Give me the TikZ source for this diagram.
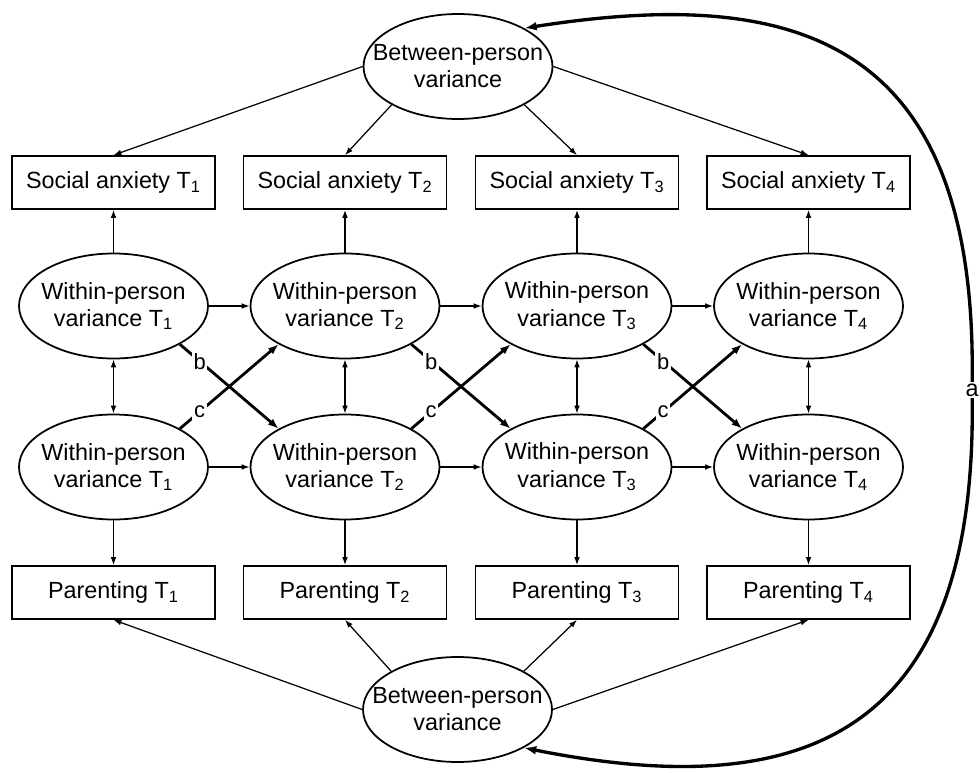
\documentclass[tikz,border=0pt]{standalone}
\usepackage{fontspec}
\setmainfont{Liberation Sans}
\usetikzlibrary{shapes.geometric, arrows.meta, positioning, calc}

\begin{document}
\begin{tikzpicture}[
	font=\fontsize{13.3}{15.4}\selectfont,
	latent/.style={draw, ellipse, line width=1pt, minimum width=3.78cm, minimum height=2.1cm, inner ysep=0pt, inner xsep=-0.15cm, align=center},
	between/.style={latent, inner xsep=-0.37cm},
	observed/.style={draw, rectangle, line width=1pt, minimum width=4.06cm, minimum height=1.06cm, inner sep=0pt},
	regpath/.style={-{Latex[length=4.5pt,width=3.2pt]}, line width=0.7pt},
	covpath/.style={{Latex[length=4.5pt,width=3.2pt]}-{Latex[length=4.5pt,width=3.2pt]}, line width=0.7pt},
	lagpath/.style={-{Latex[length=6pt,width=4.5pt]}, line width=1.6pt},
	coef/.style={pos=0.2, fill=white, inner sep=1pt, font=\fontsize{12.5}{14}\selectfont}
	]
	% --- Frame ---
	\useasboundingbox (0,0) rectangle (19.6,15.46);
	
	% --- Between-person (top) ---
	\node[between] (BP_top) at (9.16,14.13) {Between-person\\variance};
	
	% --- Social anxiety row ---
	\node[observed] (SA_1) at (2.27,11.81) {Social anxiety T\textsubscript{1}};
	\node[observed] (SA_2) at (6.90,11.81) {Social anxiety T\textsubscript{2}};
	\node[observed] (SA_3) at (11.54,11.81) {Social anxiety T\textsubscript{3}};
	\node[observed] (SA_4) at (16.17,11.81) {Social anxiety T\textsubscript{4}};
	
	% --- Within-person, anxiety ---
	\node[latent] (WA_1) at (2.27,9.34) {Within-person\\variance T\textsubscript{1}};
	\node[latent] (WA_2) at (6.90,9.34) {Within-person\\variance T\textsubscript{2}};
	\node[latent] (WA_3) at (11.54,9.34) {Within-person\\variance T\textsubscript{3}};
	\node[latent] (WA_4) at (16.17,9.34) {Within-person\\variance T\textsubscript{4}};
	
	% --- Within-person, parenting ---
	\node[latent] (WP_1) at (2.27,6.12) {Within-person\\variance T\textsubscript{1}};
	\node[latent] (WP_2) at (6.90,6.12) {Within-person\\variance T\textsubscript{2}};
	\node[latent] (WP_3) at (11.54,6.12) {Within-person\\variance T\textsubscript{3}};
	\node[latent] (WP_4) at (16.17,6.12) {Within-person\\variance T\textsubscript{4}};
	
	% --- Parenting row ---
	\node[observed] (PA_1) at (2.27,3.61) {Parenting T\textsubscript{1}};
	\node[observed] (PA_2) at (6.90,3.61) {Parenting T\textsubscript{2}};
	\node[observed] (PA_3) at (11.54,3.61) {Parenting T\textsubscript{3}};
	\node[observed] (PA_4) at (16.17,3.61) {Parenting T\textsubscript{4}};
	
	% --- Between-person (bottom) ---
	\node[between] (BP_bot) at (9.15,1.27) {Between-person\\variance};
	
	% --- Loadings ---
	\draw[regpath] (BP_top.west) -- (SA_1.north);
	\draw[regpath] (BP_top.210) -- (SA_2.north);
	\draw[regpath] (BP_top.-30) -- (SA_3.north);
	\draw[regpath] (BP_top.east) -- (SA_4.north);
	
	\draw[regpath] (WA_1) -- (SA_1);
	\draw[regpath] (WA_2) -- (SA_2);
	\draw[regpath] (WA_3) -- (SA_3);
	\draw[regpath] (WA_4) -- (SA_4);
	
	\draw[regpath] (WP_1) -- (PA_1);
	\draw[regpath] (WP_2) -- (PA_2);
	\draw[regpath] (WP_3) -- (PA_3);
	\draw[regpath] (WP_4) -- (PA_4);
	
	\draw[regpath] (BP_bot.west) -- (PA_1.south);
	\draw[regpath] (BP_bot.150) -- (PA_2.south);
	\draw[regpath] (BP_bot.30) -- (PA_3.south);
	\draw[regpath] (BP_bot.east) -- (PA_4.south);
	
	% --- Stability paths ---
	\draw[regpath] (WA_1) -- (WA_2);
	\draw[regpath] (WA_2) -- (WA_3);
	\draw[regpath] (WA_3) -- (WA_4);
	\draw[regpath] (WP_1) -- (WP_2);
	\draw[regpath] (WP_2) -- (WP_3);
	\draw[regpath] (WP_3) -- (WP_4);
	
	% --- Within-time covariances ---
	\draw[covpath] (WA_1) -- (WP_1);
	\draw[covpath] (WA_2) -- (WP_2);
	\draw[covpath] (WA_3) -- (WP_3);
	\draw[covpath] (WA_4) -- (WP_4);
	
	% --- Cross-lagged paths (b, c) ---
	\draw[lagpath] (WA_1.-30) -- (WP_2.150) node[coef] {b};
	\draw[lagpath] (WP_1.30) -- (WA_2.-150) node[coef] {c};
	\draw[lagpath] (WA_2.-30) -- (WP_3.150) node[coef] {b};
	\draw[lagpath] (WP_2.30) -- (WA_3.-150) node[coef] {c};
	\draw[lagpath] (WA_3.-30) -- (WP_4.150) node[coef] {b};
	\draw[lagpath] (WP_3.30) -- (WA_4.-150) node[coef] {c};
	
	% --- Between-person covariance (a) ---
	\coordinate (ArcRight) at (19.44,7.66);
	\draw[{Latex[length=7pt,width=5pt]}-{Latex[length=7pt,width=5pt]}, line width=1.9pt]
		(BP_top.30) .. controls (16,15.76) and (19.6,14.66) .. (ArcRight)
		.. controls (19.6,0.66) and (16,-0.6) .. (BP_bot.-30);
	\node[fill=white, inner sep=1pt] (a_lab) at (ArcRight) {a};
	
\end{tikzpicture}
\end{document}
